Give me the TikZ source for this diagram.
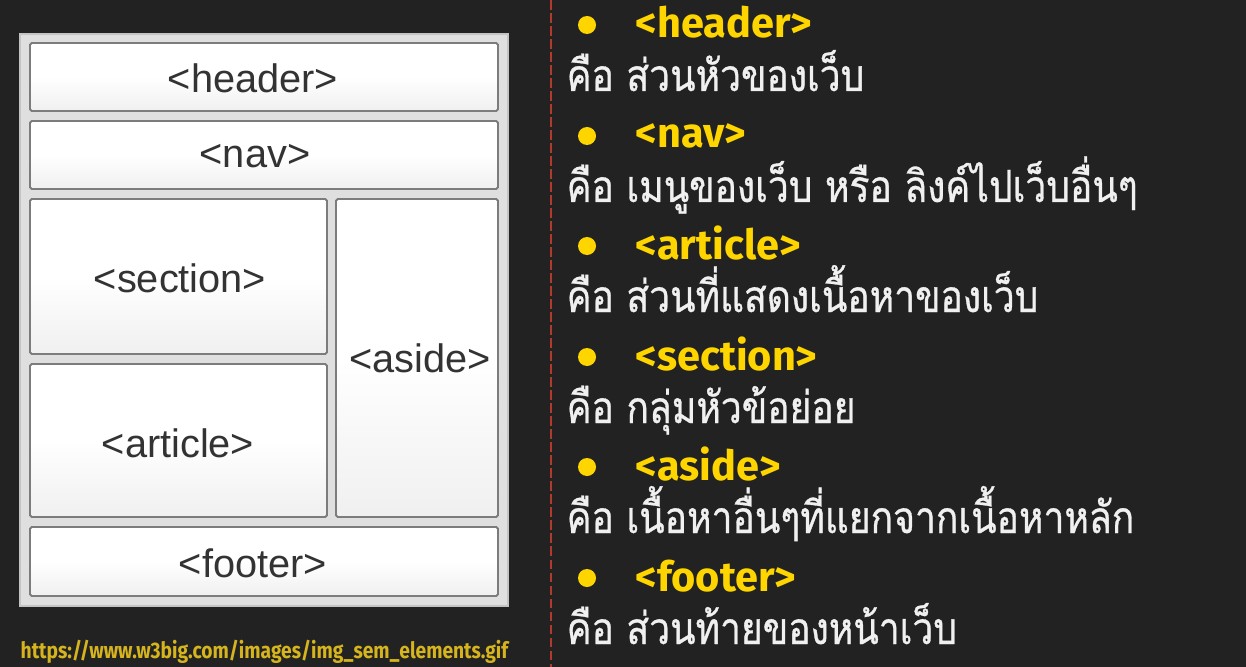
\documentclass[tikz,border=0pt]{standalone}
\usepackage{fontspec}
\setmainfont{Liberation Sans}
\newfontfamily\thaifont[Script=Thai,FakeStretch=0.84,FakeBold=0.7]{Loma}
\newfontfamily\headfont{Fira Sans}
\newfontfamily\urlfont[FakeStretch=0.855]{Fira Sans}
\usepackage{tikz}

\definecolor{bgdark}{HTML}{222222}
\definecolor{framegray}{HTML}{DFDFDF}
\definecolor{frameline}{HTML}{C4C4C4}
\definecolor{boxline}{HTML}{7C7C7C}
\definecolor{boxtext}{HTML}{333333}
\definecolor{tagyellow}{HTML}{FFD500}
\definecolor{urlyellow}{HTML}{D6B41E}
\definecolor{splitred}{HTML}{B23A2C}

\tikzset{
  blk/.style={draw=boxline,line width=0.55pt,top color=white,bottom color=gray!12,middle color=white,rounded corners=0.5pt},
  blklabel/.style={text=boxtext,font=\fontsize{11.3}{13}\selectfont,inner sep=0pt},
  tagname/.style={text=tagyellow,font=\headfont\bfseries\fontsize{11.8}{14}\selectfont,anchor=base west,inner sep=0pt},
  desc/.style={text=white!94!black,font=\thaifont\fontsize{12.6}{15}\selectfont,anchor=base west,inner sep=0pt},
  dot/.style={fill=tagyellow,draw=none}
}

\begin{document}
\begin{tikzpicture}[x=0.01cm,y=-0.01cm]
\fill[bgdark] (0,0) rectangle (1246,667);
\useasboundingbox (0,0) rectangle (1246,667);
% layout picture
\draw[fill=framegray,draw=frameline,line width=0.8pt] (20,34) rectangle (508,606);
\draw[blk] (30,43) rectangle (498,111);
\draw[blk] (30,121) rectangle (498,189);
\draw[blk] (30,199) rectangle (327,354);
\draw[blk] (30,364) rectangle (327,517);
\draw[blk] (336,199) rectangle (498,517);
\draw[blk] (30,527) rectangle (498,596);
\node[blklabel] (lheader) at (253,78) {<header>};
\node[blklabel] (lnav) at (255,156) {<nav>};
\node[blklabel] (lsection) at (180,278) {<section>};
\node[blklabel] (larticle) at (178,443) {<article>};
\node[blklabel] (laside) at (420,358) {<aside>};
\node[blklabel] (lfooter) at (253,563) {<footer>};
\node[text=urlyellow,font=\urlfont\bfseries\fontsize{6.4}{8}\selectfont,anchor=base west,inner sep=0pt] (src) at (20,658) {https://www.w3big.com/images/img\_sem\_elements.gif};
% divider
\draw[splitred,line width=0.6pt,dash pattern=on 2.8pt off 0.9pt] (551,0) -- (551,667);
% list
\fill[dot] (587,25) circle (9);
\node[tagname] (theader) at (635,38) {<header>};
\node[desc] (dheader) at (566,91) {คือ ส่วนหัวของเว็บ};
\fill[dot] (587,136) circle (9);
\node[tagname] (tnav) at (635,148) {<nav>};
\node[desc] (dnav) at (566,202) {คือ เมนูของเว็บ หรือ ลิงค์ไปเว็บอื่นๆ};
\fill[dot] (587,246) circle (9);
\node[tagname] (tarticle) at (635,259) {<article>};
\node[desc] (darticle) at (566,312) {คือ ส่วนที่แสดงเนื้อหาของเว็บ};
\fill[dot] (587,357) circle (9);
\node[tagname] (tsection) at (635,370) {<section>};
\node[desc] (dsection) at (566,423) {คือ กลุ่มหัวข้อย่อย};
\fill[dot] (587,467) circle (9);
\node[tagname] (taside) at (635,480) {<aside>};
\node[desc] (daside) at (566,533) {คือ เนื้อหาอื่นๆที่แยกจากเนื้อหาหลัก};
\fill[dot] (587,578) circle (9);
\node[tagname] (tfooter) at (635,591) {<footer>};
\node[desc] (dfooter) at (566,644) {คือ ส่วนท้ายของหน้าเว็บ};
\end{tikzpicture}
\end{document}
